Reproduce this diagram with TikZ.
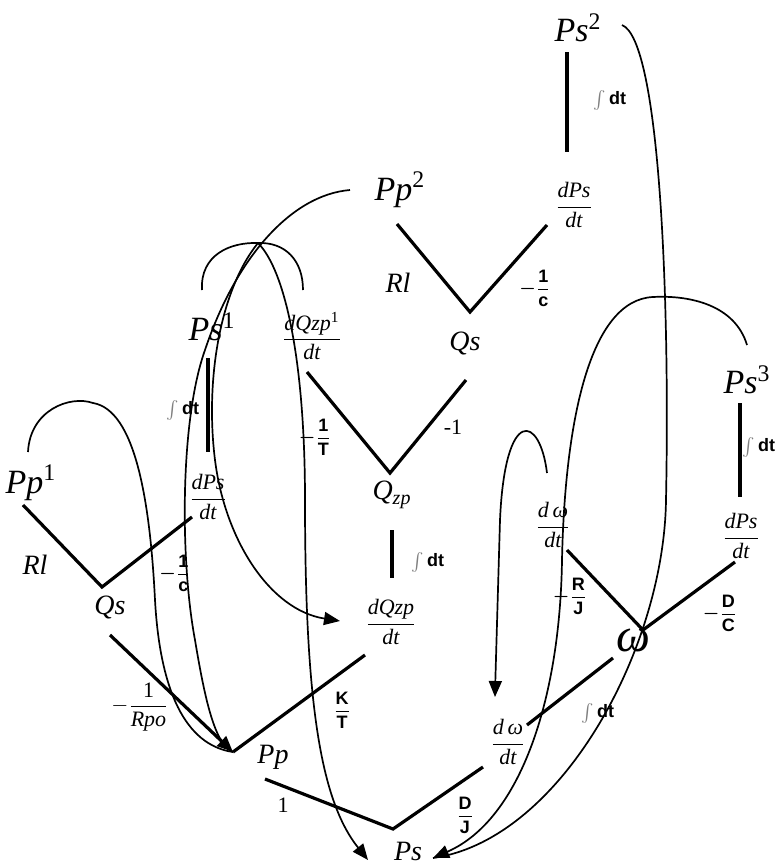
\documentclass[tikz,border=0pt]{standalone}
\usepackage{amsmath}
\usepackage{fontspec}
\setmainfont{Liberation Serif}
\setsansfont{Liberation Sans}
\usetikzlibrary{arrows.meta}

\newcommand{\cfb}[1]{\textsf{\textbf{#1}}}
\newcommand{\intdt}{{\color{gray}$\int$}\,\cfb{dt}}

\begin{document}
\begin{tikzpicture}[x=0.5pt,y=-0.5pt,
  bond/.style={line width=1.6pt},
  sig/.style={line width=0.85pt},
  tip/.style={-{Triangle[length=8pt,width=6.5pt]}},
  big/.style={font=\fontsize{17}{17}\selectfont\itshape},
  lab/.style={font=\fontsize{14}{14}\selectfont\itshape},
  fr/.style={font=\fontsize{11}{11}\selectfont},
  coef/.style={font=\fontsize{9}{9}\selectfont},
  integ/.style={font=\fontsize{9}{9}\selectfont}]
\useasboundingbox (0,0) rectangle (779,868);

\node[big] (PsTwo) at (578,28) {Ps\textsuperscript{\upshape 2}};
\node[integ] (intTwo) at (610,100) {\intdt};
\node[fr] (dPsTwo) at (574,205) {$\dfrac{\textit{dPs}}{\textit{dt}}$};
\node[big] (PpTwo) at (400,190) {Pp\textsuperscript{\upshape 2}};
\node[lab] (RlTwo) at (398,283) {Rl};
\node[coef] (cTwo) at (535,288) {$\boldsymbol{-}\dfrac{\cfb{1}}{\cfb{c}}$};
\node[lab] (QsTwo) at (465,343) {Qs};

\node[big] (PsOne) at (212,327) {Ps\textsuperscript{\upshape 1}};
\node[integ] (intOne) at (183,410) {\intdt};
\node[fr] (dQzpOne) at (312,336) {$\dfrac{\textit{dQzp}\textsuperscript{1}}{\textit{dt}}$};
\node[coef] (TOne) at (315,437) {$\boldsymbol{-}\dfrac{\cfb{1}}{\cfb{T}}$};
\node[fr] (mOne) at (453,427) {-1};
\node[lab] (Qzp) at (392,495) {Q\textsubscript{\fontsize{10}{10}\selectfont zp}};
\node[integ] (intZp) at (428,562) {\intdt};
\node[fr] (dQzp) at (391,622) {$\dfrac{\textit{dQzp}}{\textit{dt}}$};

\node[big] (PpOne) at (31,483) {Pp\textsuperscript{\upshape 1}};
\node[lab] (RlOne) at (35,565) {Rl};
\node[fr] (dPsOne) at (208,497) {$\dfrac{\textit{dPs}}{\textit{dt}}$};
\node[coef] (cOne) at (175,573) {$\boldsymbol{-}\dfrac{\cfb{1}}{\cfb{c}}$};
\node[lab] (QsOne) at (110,607) {Qs};
\node[fr] (Rpo) at (140,707) {$-\dfrac{\text{1}}{\textit{Rpo}}$};
\node[lab] (Pp) at (273,757) {Pp};
\node[coef] (KT) at (342,710) {$\dfrac{\cfb{K}}{\cfb{T}}$};
\node[fr] (one) at (283,805) {1};
\node[coef] (DJ) at (465,815) {$\dfrac{\cfb{D}}{\cfb{J}}$};
\node[lab] (Ps) at (408,851) {Ps};

\node[big] (PsThree) at (747,380) {Ps\textsuperscript{\upshape 3}};
\node[integ] (intThree) at (759,447) {\intdt};
\node[fr] (dPsThree) at (741,536) {$\dfrac{\textit{dPs}}{\textit{dt}}$};
\node[fr] (dwOne) at (553,525) {$\dfrac{\textit{d\,ω}}{\textit{dt}}$};
\node[coef] (RJ) at (570,596) {$\boldsymbol{-}\dfrac{\cfb{R}}{\cfb{J}}$};
\node[coef] (DC) at (720,613) {$\boldsymbol{-}\dfrac{\cfb{D}}{\cfb{C}}$};
\node[font=\fontsize{24}{24}\selectfont\itshape] (w) at (633,640) {ω};
\node[integ] (intW) at (598,713) {\intdt};
\node[fr] (dw) at (508,742) {$\dfrac{\textit{d\,ω}}{\textit{dt}}$};

\coordinate (aTwo) at (567,52);
\coordinate (bTwo) at (567,152);
\coordinate (lTwo) at (397,224);
\coordinate (vTwo) at (470,312);
\coordinate (rTwo) at (547,225);
\coordinate (lZp) at (307,372);
\coordinate (vZp) at (390,473);
\coordinate (rZp) at (466,380);
\coordinate (aZp) at (392,530);
\coordinate (bZp) at (392,578);
\coordinate (aOne) at (208,358);
\coordinate (bOne) at (208,452);
\coordinate (lOne) at (23,505);
\coordinate (vOne) at (102,587);
\coordinate (rOne) at (192,517);
\coordinate (sOne) at (110,635);
\coordinate (vPp) at (233,752);
\coordinate (rPp) at (365,655);
\coordinate (lLow) at (265,779);
\coordinate (vLow) at (393,829);
\coordinate (rLow) at (483,767);
\coordinate (aThree) at (740,403);
\coordinate (bThree) at (740,497);
\coordinate (lW) at (567,550);
\coordinate (vW) at (643,630);
\coordinate (rW) at (735,562);
\coordinate (sW) at (613,658);
\coordinate (eW) at (527,725);

\draw[bond] (aTwo) -- (bTwo);
\draw[bond] (lTwo) -- (vTwo) -- (rTwo);
\draw[bond] (lZp) -- (vZp) -- (rZp);
\draw[bond] (aZp) -- (bZp);
\draw[bond] (aOne) -- (bOne);
\draw[bond] (lOne) -- (vOne) -- (rOne);
\draw[bond,tip] (sOne) -- (vPp);
\draw[bond] (vPp) -- (rPp);
\draw[bond] (lLow) -- (vLow) -- (rLow);
\draw[bond] (aThree) -- (bThree);
\draw[bond] (lW) -- (vW) -- (rW);
\draw[bond] (sW) -- (eW);

\coordinate (apex) at (258,243);
\coordinate (cLeft) at (202,290);
\coordinate (cRight) at (303,290);
\coordinate (sPpTwo) at (350,190);
\coordinate (sPpOne) at (28,452);
\coordinate (sPsTwo) at (622,25);
\coordinate (sPsThree) at (747,345);
\coordinate (sdw) at (547,473);
\coordinate (tdQzp) at (340,621);
\coordinate (tdw) at (495,697);
\coordinate (tPsL) at (368,860);
\coordinate (tPsR) at (433,858);

\draw[sig] (cLeft) .. controls (200,255) and (230,242) .. (apex)
  .. controls (285,242) and (303,260) .. (cRight);
\draw[sig] (sPpTwo) .. controls (290,195) and (235,260) .. (205,350)
  .. controls (180,420) and (180,560) .. (195,640)
  .. controls (205,700) and (215,745) .. (vPp);
\draw[sig] (sPpOne) .. controls (30,410) and (70,395) .. (93,403)
  .. controls (135,410) and (150,500) .. (155,600)
  .. controls (160,690) and (185,745) .. (vPp);
\draw[sig,tip] (apex) .. controls (220,290) and (205,380) .. (215,460)
  .. controls (225,540) and (270,610) .. (tdQzp);
\draw[sig,tip] (apex) .. controls (285,270) and (305,360) .. (305,500)
  .. controls (305,700) and (320,800) .. (tPsL);
\draw[sig] (sPsTwo) .. controls (660,40) and (670,300) .. (666,500)
  .. controls (664,650) and (560,840) .. (tPsR);
\draw[sig,tip] (sPsThree) .. controls (735,305) and (690,295) .. (653,297)
  .. controls (590,300) and (565,420) .. (562,560)
  .. controls (560,700) and (520,820) .. (tPsR);
\draw[sig,tip] (sdw) .. controls (540,415) and (505,405) .. (500,520)
  .. controls (497,600) .. (tdw);
\end{tikzpicture}
\end{document}
